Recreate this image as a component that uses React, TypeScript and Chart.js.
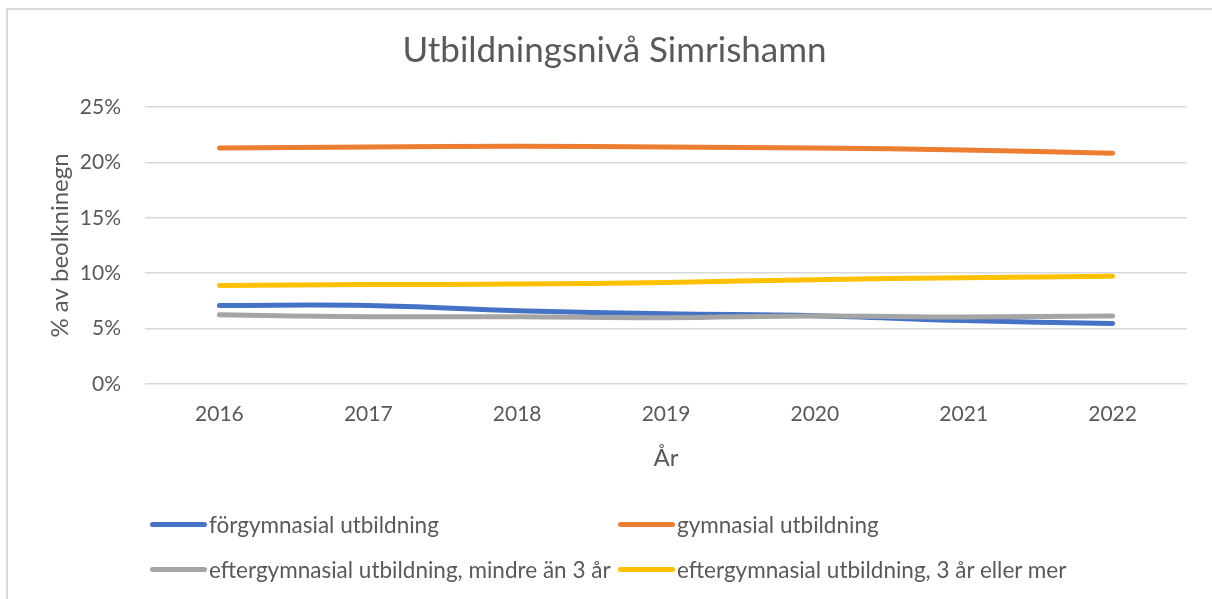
import React, { useEffect, useRef } from "react";
import { Chart, registerables } from "chart.js";

Chart.register(...registerables);

const years = ["2016", "2017", "2018", "2019", "2020", "2021", "2022"];
const forgymnasial = [7.09, 7.08, 6.62, 6.33, 6.16, 5.72, 5.46];
const gymnasial = [21.29, 21.38, 21.45, 21.38, 21.3, 21.12, 20.83];
const efterMindre = [6.25, 6.07, 6.07, 5.98, 6.14, 6.05, 6.14];
const efterMer = [8.9, 8.97, 9.02, 9.16, 9.42, 9.6, 9.72];

const seriesNames = [
  "förgymnasial utbildning",
  "gymnasial utbildning",
  "eftergymnasial utbildning, mindre än 3 år",
  "eftergymnasial utbildning, 3 år eller mer",
];
const seriesColors = ["#4472C4", "#ED7D31", "#A5A5A5", "#FFC000"];
const seriesValues = [forgymnasial, gymnasial, efterMindre, efterMer];
const yTicks = [0, 5, 10, 15, 20, 25];

const FONT = "Lato, 'Open Sans', sans-serif";
const TEXT = "#595959";

export default function App() {
  const ref = useRef<HTMLCanvasElement | null>(null);

  useEffect(() => {
    if (!ref.current) return;
    const chart = new Chart(ref.current, {
      type: "line",
      data: {
        labels: years,
        datasets: seriesValues.map((vals, i) => ({
          label: seriesNames[i],
          data: vals,
          borderColor: seriesColors[i],
          backgroundColor: seriesColors[i],
          borderWidth: 5,
          pointRadius: 0,
          tension: 0.4,
          borderCapStyle: "round" as const,
          borderJoinStyle: "round" as const,
          fill: false,
          order: 4 - i,
        })),
      },
      options: {
        animation: false,
        responsive: false,
        maintainAspectRatio: false,
        layout: { padding: { left: 36, right: 31, top: 22, bottom: 122 } },
        plugins: {
          legend: { display: false },
          tooltip: { enabled: false },
          title: {
            display: true,
            text: "Utbildningsnivå Simrishamn",
            color: TEXT,
            font: { family: FONT, size: 35, weight: "normal" },
            padding: { top: 0, bottom: 35 },
          },
        },
        scales: {
          x: {
            type: "category",
            offset: true,
            grid: { display: false, drawTicks: false },
            border: { display: false },
            ticks: {
              color: TEXT,
              font: { family: FONT, size: 21 },
              padding: 18,
              maxRotation: 0,
            },
            title: {
              display: true,
              text: "År",
              color: TEXT,
              font: { family: FONT, size: 24 },
              padding: { top: 4, bottom: 4 },
            },
            afterFit: (scale: any) => {
              scale.height = 93;
            },
          },
          y: {
            min: 0,
            max: 25,
            afterBuildTicks: (scale: any) => {
              scale.ticks = yTicks.map((v) => ({ value: v }));
            },
            grid: { color: "#D9D9D9", lineWidth: 1.5, drawTicks: false },
            border: { display: false },
            ticks: {
              color: TEXT,
              font: { family: FONT, size: 21 },
              padding: 24,
              callback: (v: any) => `${v}%`,
            },
            title: {
              display: true,
              text: "% av beolkninegn",
              color: TEXT,
              font: { family: FONT, size: 24 },
              padding: { top: 4, bottom: 4 },
            },
            afterFit: (scale: any) => {
              scale.width = 103;
            },
          },
        },
      },
    });
    return () => chart.destroy();
  }, []);

  const legendRows = [
    [0, 1],
    [2, 3],
  ];
  const rowY = [524, 569];
  const colX = [150, 618];

  return (
    <div
      style={{
        position: "fixed",
        left: 0,
        top: 0,
        width: 1212,
        height: 599,
        overflow: "hidden",
        background: "#fff",
      }}
    >
      <div
        style={{
          position: "absolute",
          left: 6,
          top: 8,
          width: 1240,
          height: 640,
          border: "2px solid #D9D9D9",
          boxSizing: "border-box",
          background: "#fff",
        }}
      />
      <canvas
        ref={ref}
        width={1212}
        height={591}
        style={{ position: "absolute", left: 6, top: 8, width: 1212, height: 591 }}
      />
      {legendRows.map((row, r) =>
        row.map((si, c) => (
          <div
            key={si}
            style={{
              position: "absolute",
              left: colX[c],
              top: rowY[r] - 15,
              height: 30,
              display: "flex",
              alignItems: "center",
              whiteSpace: "nowrap",
              fontFamily: FONT,
              fontSize: 22.5,
              color: TEXT,
            }}
          >
            <span
              style={{
                display: "inline-block",
                width: 57,
                height: 5,
                borderRadius: 3,
                background: seriesColors[si],
                marginRight: 2,
              }}
            />
            <span>{seriesNames[si]}</span>
          </div>
        ))
      )}
    </div>
  );
}
